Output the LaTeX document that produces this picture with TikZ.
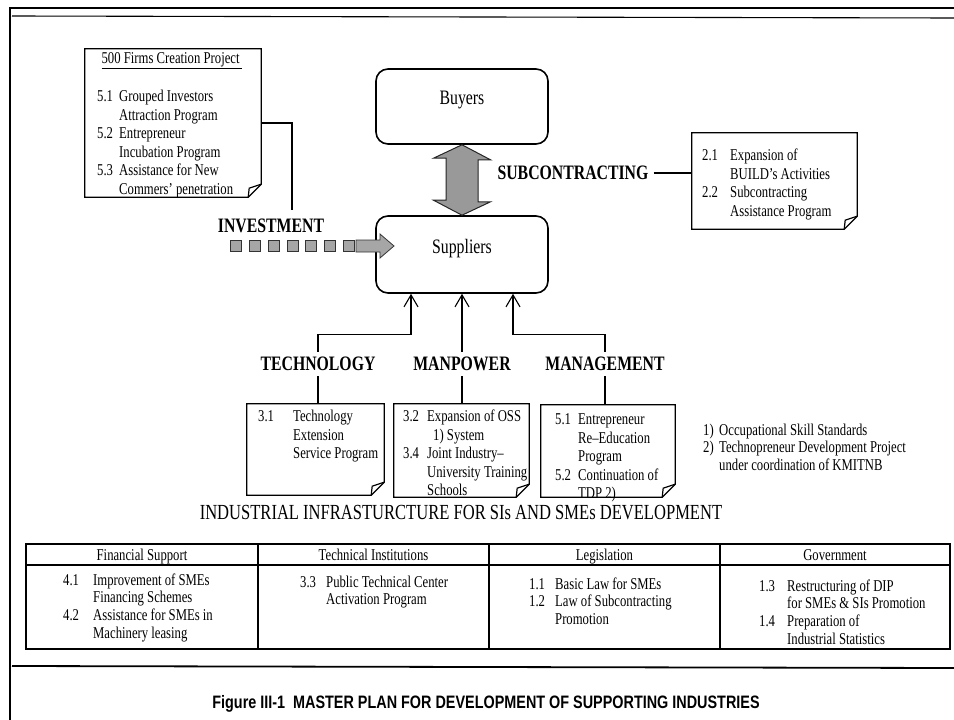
\documentclass[tikz,border=0pt]{standalone}
\usepackage{fontspec}
\setmainfont{Liberation Serif}[FakeStretch=0.77]
\newfontfamily\capfont{Liberation Sans}[FakeStretch=0.8]
\usetikzlibrary{arrows.meta,calc}
\newcommand{\bodyfont}{\fontsize{16.5}{18.5}\selectfont}
\newcommand{\tabfont}{\fontsize{16.5}{17.7}\selectfont}
\newcommand{\lblfont}{\fontsize{20.5}{24}\selectfont\bfseries}
\newcommand{\dogear}[1]{%
  \draw[boxline] (#1.north west) -- (#1.north east) -- ([yshift=13pt]#1.south east)
     -- ([xshift=-13pt]#1.south east) -- (#1.south west) -- cycle;
  \draw[boxline] ([xshift=-13pt]#1.south east) -- ([xshift=-12pt,yshift=9pt]#1.south east)
     -- ([yshift=13pt]#1.south east);}
\tikzset{
  boxline/.style={line width=1.2pt},
  notearea/.style={inner sep=0pt, draw=none},
  roundbox/.style={draw, line width=1.6pt, rounded corners=12pt, minimum width=172pt,
     inner sep=0pt, font=\fontsize{20.5}{24}\selectfont},
  itemtext/.style={anchor=north west, inner sep=0pt, font=\bodyfont},
  tabtext/.style={anchor=north west, inner sep=0pt, font=\tabfont},
  headtext/.style={anchor=base, inner sep=0pt, font=\tabfont},
  lbl/.style={font=\lblfont, inner sep=5pt},
  conn/.style={line width=1.1pt},
  arr/.style={line width=1.1pt, -{Straight Barb[length=12pt,width=14pt]}},
  bigarrow/.style={fill=black!40, draw=black!85, line width=1pt},
  sq/.style={fill=black!35, draw=black!80, line width=0.8pt},
  tabline/.style={line width=1.5pt},
}
\begin{document}
\begin{tikzpicture}[x=1pt,y=-1pt]
\useasboundingbox (0,0) rectangle (954,720);
\fill[white] (0,0) rectangle (954,720);

% outer frame
\draw[line width=2.6pt] (954,8) -- (10,8) -- (10,720);
\draw[line width=1.1pt] (12,16) -- (954,18);
\draw[line width=1.8pt] (12,666) -- (954,668);

% Buyers / Suppliers
\node[roundbox, minimum height=75pt] (buyers) at (462,106.5) {\raisebox{7pt}[\height][\depth]{Buyers}};
\node[roundbox, minimum height=77pt] (suppliers) at (462,254.5) {\raisebox{6pt}[\height][\depth]{Suppliers}};

% double arrow (subcontracting)
\filldraw[bigarrow] (buyers.south) -- ++(28.5,15) -- ++(-12.5,0) -- ++(0,42) -- ++(12.5,0)
  -- (suppliers.north) -- ++(-28.5,-15) -- ++(12.5,0) -- ++(0,-42) -- ++(-12.5,0) -- cycle;

% 500 Firms box
\node[notearea, minimum width=176pt, minimum height=148pt] (firms) at (173,123) {};
\dogear{firms}
\node[inner sep=0pt, font=\bodyfont] (firmstitle) at (172,61) {\underline{500 Firms Creation Project\,}};
\node[itemtext] (firmsitems) at (97,88.5) {\begin{tabular}{@{}p{22pt}@{}l@{}}
5.1 & Grouped Investors\\
    & Attraction Program\\
5.2 & Entrepreneur\\
    & Incubation Program\\
5.3 & Assistance for New\\
    & Commers' penetration
\end{tabular}};

% investment
\node[lbl] (invest) at (271,226) {INVESTMENT};
\coordinate (invtop) at (292,210);
\draw[conn] (firms.east) -| (invtop);
\coordinate (invstart) at (230.5,240.5);
\foreach \i in {0,...,6}
  \filldraw[sq] ($(invstart)+(\i*18.8,0)$) rectangle ++(11,11);
\coordinate (invtip) at (394,246);
\filldraw[sq] (invtip) -- ++(-14,-12) -- ++(0,6) -- ++(-24,0) -- ++(0,12) -- ++(24,0) -- ++(0,6) -- cycle;

% subcontracting
\node[lbl] (sublbl) at (573,173) {SUBCONTRACTING};
\node[notearea, minimum width=165pt, minimum height=96pt] (subbox) at (774.5,181) {};
\dogear{subbox}
\draw[conn] (sublbl.east) -- (sublbl.east -| subbox.west);
\node[itemtext] (subitems) at (702,147.5) {\begin{tabular}{@{}p{28pt}@{}l@{}}
2.1 & Expansion of\\
    & BUILD's Activities\\
2.2 & Subcontracting\\
    & Assistance Program
\end{tabular}};

% three inputs
\node[lbl] (tech) at (318,364) {TECHNOLOGY};
\node[lbl] (manp) at (462,364) {MANPOWER};
\node[lbl] (mgmt) at (605,364) {MANAGEMENT};

\draw[arr] (tech.north) |- ($(suppliers.south)+(-51,41)$) -- ($(suppliers.south)+(-51,0)$);
\draw[arr] (manp.north) -- (suppliers.south);
\draw[arr] (mgmt.north) |- ($(suppliers.south)+(51,41)$) -- ($(suppliers.south)+(51,0)$);

\node[notearea, minimum width=137pt, minimum height=91pt] (techbox) at (315.5,449.5) {};
\node[notearea, minimum width=135pt, minimum height=93pt] (manbox) at (461.5,450.5) {};
\node[notearea, minimum width=134pt, minimum height=92pt] (mgmtbox) at (608,451) {};
\dogear{techbox}
\dogear{manbox}
\dogear{mgmtbox}
\draw[conn] (tech.south) -- (tech.south |- techbox.north);
\draw[conn] (manp.south) -- (manp.south |- manbox.north);
\draw[conn] (mgmt.south) -- (mgmt.south |- mgmtbox.north);

\node[itemtext] (techitems) at (258,408.5) {\begin{tabular}{@{}p{35pt}@{}l@{}}
3.1 & Technology\\
    & Extension\\
    & Service Program
\end{tabular}};
\node[itemtext] (manitems) at (403,408.5) {\begin{tabular}{@{}p{24pt}@{}l@{}}
3.2 & Expansion of OSS\\
    & \hspace{6pt}1) System\\
3.4 & Joint Industry--\\
    & University Training\\
    & Schools
\end{tabular}};
\node[itemtext] (mgmtitems) at (555,411.5) {\begin{tabular}{@{}p{23pt}@{}l@{}}
5.1 & Entrepreneur\\
    & Re--Education\\
    & Program\\
5.2 & Continuation of\\
    & TDP 2)
\end{tabular}};

% footnotes
\node[tabtext] (notes) at (703,422.5) {\begin{tabular}{@{}p{16pt}@{}l@{}}
1) & Occupational Skill Standards\\
2) & Technopreneur Development Project\\
   & under coordination of KMITNB
\end{tabular}};

% infrastructure heading
\node[inner sep=0pt, font=\fontsize{21.5}{24}\selectfont] (infra) at (461,513)
  {INDUSTRIAL INFRASTURCTURE FOR SIs AND SMEs DEVELOPMENT};

% table
\node[inner sep=0pt, minimum width=924pt, minimum height=105pt] (table) at (488,596.5) {};
\draw[tabline] (table.north west) rectangle (table.south east);
\draw[tabline] (table.west |- 0,565) -- (table.east |- 0,565);
\foreach \xx in {258,489,720}
  \draw[tabline] (\xx,0 |- table.north) -- (\xx,0 |- table.south);
\node[headtext] (h1) at (142,560) {Financial Support};
\node[headtext] (h2) at (373.5,560) {Technical Institutions};
\node[headtext] (h3) at (604.5,560) {Legislation};
\node[headtext] (h4) at (835,560) {Government};

\node[tabtext] (c1) at (63,572.5) {\begin{tabular}{@{}p{30pt}@{}l@{}}
4.1 & Improvement of SMEs\\
    & Financing Schemes\\
4.2 & Assistance for SMEs in\\
    & Machinery leasing
\end{tabular}};
\node[tabtext] (c2) at (300,574.5) {\begin{tabular}{@{}p{26pt}@{}l@{}}
3.3 & Public Technical Center\\
    & Activation Program
\end{tabular}};
\node[tabtext] (c3) at (529,576.5) {\begin{tabular}{@{}p{26pt}@{}l@{}}
1.1 & Basic Law for SMEs\\
1.2 & Law of Subcontracting\\
    & Promotion
\end{tabular}};
\node[tabtext] (c4) at (759,578.5) {\begin{tabular}{@{}p{28pt}@{}l@{}}
1.3 & Restructuring of DIP\\
    & for SMEs \& SIs Promotion\\
1.4 & Preparation of\\
    & Industrial Statistics
\end{tabular}};

% caption
\node[inner sep=0pt, font=\capfont\bfseries\fontsize{18}{20}\selectfont] (caption) at (486,704)
  {Figure III-1\ \ MASTER PLAN FOR DEVELOPMENT OF SUPPORTING INDUSTRIES};
\end{tikzpicture}
\end{document}
